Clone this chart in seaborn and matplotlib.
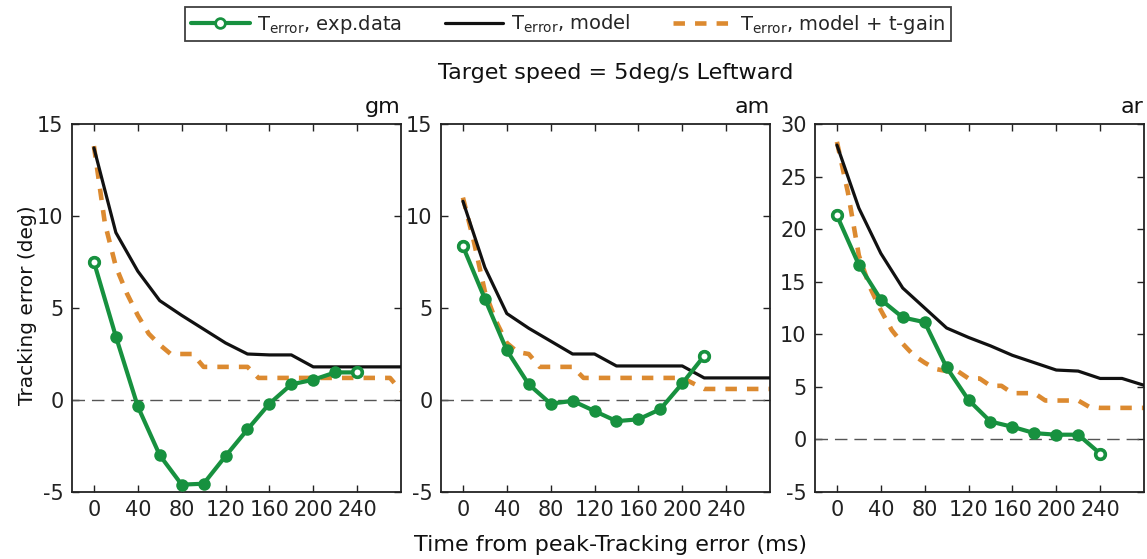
import numpy as np
import pandas as pd
import matplotlib
matplotlib.use("Agg")
import matplotlib.pyplot as plt
import seaborn as sns
from matplotlib.lines import Line2D

sns.set_theme(style="white")
plt.rcParams['font.family'] = ['DejaVu Sans']
plt.rcParams['mathtext.fontset'] = 'dejavusans'
plt.rcParams['axes.unicode_minus'] = False

# ---------------- data ----------------
subjects = ["gm", "am", "ar"]

t_exp = [0, 20, 40, 60, 80, 100, 120, 140, 160, 180, 200, 220, 240]
t_model = [0, 20, 40, 60, 80, 100, 120, 140, 160, 180, 200, 220, 240, 260, 280]
t_gain = [0, 10, 20, 30, 40, 50, 60, 70, 80, 90, 100, 110, 120, 130, 140,
          150, 160, 170, 180, 190, 200, 210, 220, 230, 240, 250, 260, 270, 280]

exp_gm = [7.5, 3.45, -0.35, -3.0, -4.6, -4.55, -3.05, -1.6, -0.2, 0.85, 1.1, 1.5, 1.5]
exp_am = [8.35, 5.5, 2.7, 0.85, -0.2, -0.05, -0.6, -1.15, -1.05, -0.5, 0.9, 2.4]
exp_ar = [21.3, 16.6, 13.3, 11.6, 11.15, 6.85, 3.75, 1.7, 1.2, 0.6, 0.45, 0.45, -1.35]

model_gm = [13.7, 9.1, 7.0, 5.4, 4.6, 3.85, 3.1, 2.5, 2.45, 2.45, 1.8, 1.8, 1.8, 1.8, 1.8]
model_am = [10.8, 7.2, 4.7, 3.9, 3.2, 2.5, 2.5, 1.85, 1.85, 1.85, 1.85, 1.2, 1.2, 1.2, 1.2]
model_ar = [28.0, 22.0, 17.7, 14.4, 12.5, 10.6, 9.7, 8.9, 8.0, 7.3, 6.6, 6.5, 5.8, 5.8, 5.15]

gain_gm = [13.8, 9.6, 7.25, 5.8, 4.6, 3.6, 3.0, 2.5, 2.5, 2.5, 1.8, 1.8, 1.8, 1.8, 1.8,
           1.2, 1.2, 1.2, 1.2, 1.2, 1.2, 1.2, 1.2, 1.2, 1.2, 1.2, 1.2, 1.2, 0.5]
gain_am = [11.0, 8.6, 5.9, 4.3, 3.1, 2.6, 2.5, 1.8, 1.8, 1.8, 1.8, 1.2, 1.2, 1.2, 1.2,
           1.2, 1.2, 1.2, 1.2, 1.2, 1.2, 0.9, 0.6, 0.6, 0.6, 0.6, 0.6, 0.6, 0.6]
gain_ar = [28.3, 23.5, 17.5, 14.5, 12.3, 10.4, 9.1, 8.0, 7.3, 6.7, 6.5, 6.5, 5.8, 5.8, 5.1,
           5.1, 4.4, 4.4, 4.4, 3.7, 3.7, 3.7, 3.7, 3.1, 3.0, 3.0, 3.0, 3.0, 3.0]

exp_data = [exp_gm, exp_am, exp_ar]
model_data = [model_gm, model_am, model_ar]
gain_data = [gain_gm, gain_am, gain_ar]

ylims = [(-5, 15), (-5, 15), (-5, 30)]
yticks = [[-5, 0, 5, 10, 15], [-5, 0, 5, 10, 15], [-5, 0, 5, 10, 15, 20, 25, 30]]
xticks = [0, 40, 80, 120, 160, 200, 240]

title_text = "Target speed = 5deg/s Leftward"
xlabel_text = "Time from peak-Tracking error (ms)"
ylabel_text = "Tracking error (deg)"
legend_labels = [r"T$_{\mathrm{error}}$, exp.data",
                 r"T$_{\mathrm{error}}$, model",
                 r"T$_{\mathrm{error}}$, model + t-gain"]

GREEN = "#17913f"
ORANGE = "#dc8a30"
BLACK = "#111111"

# ---------------- figure ----------------
fig = plt.figure(figsize=(11.47, 5.59), dpi=100)
lefts = [72 / 1147, 441 / 1147, 815 / 1147]
width = 329 / 1147
bottom = 1 - 492 / 559
height = (492 - 124) / 559

for i, subj in enumerate(subjects):
    ax = fig.add_axes([lefts[i], bottom, width, height])
    ax.axhline(0, color="#555555", lw=1.0, ls=(0, (9, 5)), zorder=1)

    sns.lineplot(x=t_model, y=model_data[i], ax=ax, color=BLACK, lw=2.3,
                 zorder=3, estimator=None, sort=False)
    sns.lineplot(x=t_gain, y=gain_data[i], ax=ax, color=ORANGE, lw=3.3,
                 linestyle=(0, (2.5, 2.2)), zorder=2, estimator=None, sort=False)
    n = len(exp_data[i])
    sns.lineplot(x=t_exp[:n], y=exp_data[i], ax=ax, color=GREEN, lw=3.0,
                 marker="o", markersize=9, markeredgewidth=0,
                 markerfacecolor=GREEN, zorder=4, estimator=None, sort=False)
    ends = pd.DataFrame({"t": [t_exp[0], t_exp[n - 1]],
                         "v": [exp_data[i][0], exp_data[i][-1]]})
    sns.scatterplot(data=ends, x="t", y="v", ax=ax, s=48, facecolor="white",
                    edgecolor=GREEN, linewidth=2.6, zorder=5)

    ax.set_xlim(-20, 280)
    ax.set_ylim(*ylims[i])
    ax.set_xticks(xticks)
    ax.set_yticks(yticks[i])
    ax.set_xlabel("")
    ax.set_ylabel("")
    ax.tick_params(direction="in", length=5, width=1, top=True, right=True,
                   bottom=True, left=True, labelsize=15, pad=6, colors="#222222",
                   labelcolor="#222222")
    for sp in ax.spines.values():
        sp.set_color("#222222")
        sp.set_linewidth(1.3)
    ax.set_title(subj, loc="right", fontsize=16, pad=8, color="#111111")

fig.text(616 / 1147, 1 - 73 / 559, title_text, ha="center", va="center",
         fontsize=16, color="#111111")
fig.text(610 / 1147, 1 - 545 / 559, xlabel_text, ha="center", va="center",
         fontsize=16, color="#111111")
fig.text(28 / 1147, 1 - 305 / 559, ylabel_text, ha="center", va="center",
         rotation=90, fontsize=14.5, color="#111111")

handles = [
    Line2D([], [], color=GREEN, lw=3.0, marker="o", markersize=7,
           markerfacecolor="white", markeredgecolor=GREEN, markeredgewidth=2),
    Line2D([], [], color=BLACK, lw=2.3),
    Line2D([], [], color=ORANGE, lw=3.3, ls=(0, (2.5, 2.2))),
]
leg = fig.legend(handles, legend_labels, ncol=3, loc="center",
                 bbox_to_anchor=(568 / 1147, 1 - 24 / 559), fontsize=14,
                 frameon=True, fancybox=False, edgecolor="#111111",
                 handlelength=3.0, columnspacing=2.2, borderpad=0.3,
                 handletextpad=0.4)
leg.get_frame().set_linewidth(1.3)

fig.savefig("out.png", dpi=100)
